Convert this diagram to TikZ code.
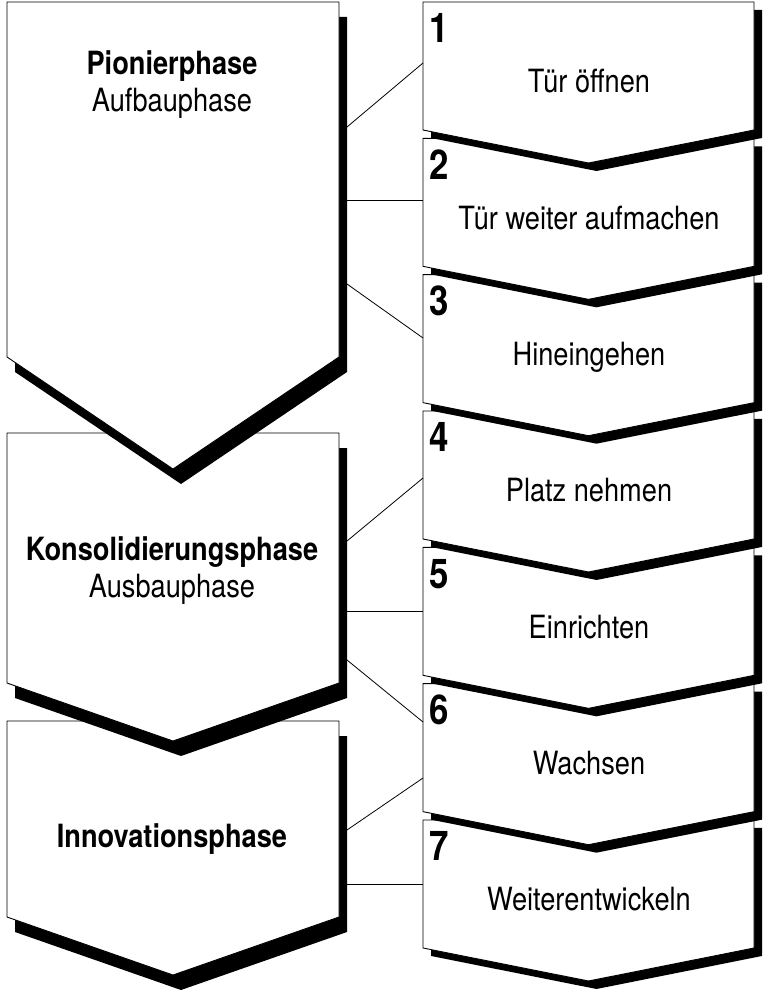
\documentclass[tikz,border=0pt]{standalone}
\usepackage{fontspec}
\setmainfont{TeX Gyre Heros}[FakeStretch=0.85]
\newcommand\mychev[7]{% x1 x2 ytop yside ytip dx dy
  \fill[black,shift={(#6,#7)}] (#1,#3) -- (#2,#3) -- (#2,#4) -- ({(#1+#2)/2},#5) -- (#1,#4) -- cycle;
  \filldraw[boxfill] (#1,#3) -- (#2,#3) -- (#2,#4) -- ({(#1+#2)/2},#5) -- (#1,#4) -- cycle;}
\begin{document}
\begin{tikzpicture}[x=1pt,y=-1pt,
  boxfill/.style={fill=white,draw=black,line width=0.9pt,line join=miter},
  conn/.style={draw=black,line width=0.8pt},
  lbl/.style={font=\fontsize{32}{36}\selectfont, inner sep=0pt, anchor=base},
  lblb/.style={font=\fontsize{32}{36}\selectfont\bfseries, inner sep=0pt, anchor=base},
  num/.style={font=\fontsize{41}{44}\selectfont\bfseries, inner sep=0pt, anchor=base west}]
\useasboundingbox[fill=white] (0,0) rectangle (763,992);

% right step chevrons, drawn bottom-up
\foreach \k/\lab in {7/Weiterentwickeln,6/Wachsen,5/Einrichten,4/Platz nehmen,3/Hineingehen,2/Tür weiter aufmachen,1/Tür öffnen}{
  \pgfmathsetmacro\t{2+136.33*(\k-1)}
  \pgfmathsetmacro\s{\t+128}
  \pgfmathsetmacro\p{\t+161}
  \mychev{423}{754}{\t}{\s}{\p}{8}{8}
  \node[num] (n\k) at (429,\t+41) {\k};
  \node[lbl] (l\k) at (589,\t+91) {\lab};
}

% left phase chevrons, drawn bottom-up
\mychev{7}{339}{721}{917}{975}{8}{15}
\mychev{7}{339}{433}{683}{741}{8}{15}
\mychev{7}{339}{2}{357}{469}{8}{15}

\node[lblb] (p1) at (172,75) {Pionierphase};
\node[lbl] (p1s) at (172,112) {Aufbauphase};
\node[lblb] (p2) at (172,560) {Konsolidierungsphase};
\node[lbl] (p2s) at (172,597) {Ausbauphase};
\node[lblb] (p3) at (172,847) {Innovationsphase};

% connector end points
\coordinate (a1) at (347,127); \coordinate (b1) at (423,63);
\coordinate (a2) at (347,200); \coordinate (b2) at (423,200);
\coordinate (a3) at (347,284); \coordinate (b3) at (423,338);
\coordinate (a4) at (347,541); \coordinate (b4) at (423,478);
\coordinate (a5) at (347,611); \coordinate (b5) at (423,611);
\coordinate (a6) at (347,660); \coordinate (b6) at (423,722);
\coordinate (a7) at (347,830); \coordinate (b7) at (423,778);
\coordinate (a8) at (347,884); \coordinate (b8) at (423,884);
\foreach \i in {1,...,8}{\draw[conn] (a\i) -- (b\i);}
\end{tikzpicture}
\end{document}
